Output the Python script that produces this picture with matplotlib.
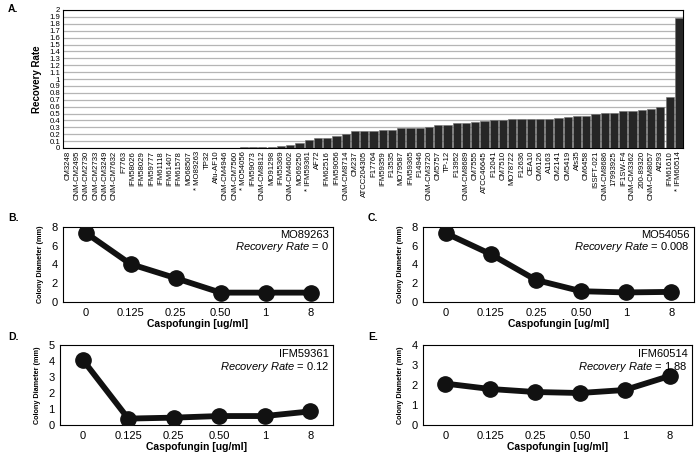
import matplotlib
matplotlib.use("Agg")
import matplotlib.pyplot as plt
import numpy as np

plt.rcParams['font.family'] = ['Liberation Sans', 'DejaVu Sans']
plt.rcParams['mathtext.fontset'] = 'custom'
plt.rcParams['mathtext.rm'] = 'Liberation Sans'
plt.rcParams['mathtext.it'] = 'Liberation Sans:italic'

# ---- Panel A data ----
strains = ["CM3248", "CNM-CM2495", "CNM-CM2730", "CNM-CM2733", "CNM-CM3249", "CNM-CM7632",
           "F7763", "IFM58026", "IFM58029", "IFM59777", "IFM61118", "IFM61407", "IFM61578",
           "MO68507", "* MO89263", "TP32", "Afu-AF10", "CNM-CM4946", "CNM-CM7560",
           "* MO54056", "IFM59073", "CNM-CM8812", "MO91298", "IFM55369", "CNM-CM4602",
           "MO69250", "* IFM59361", "AF72", "IFM62516", "IFM59056", "CNM-CM8714", "CM237",
           "ATCC204305", "F17764", "IFM59359", "F13535", "MO79587", "IFM59365", "F14946",
           "CNM-CM3720", "CM5757", "TP-12", "F13952", "CNM-CM8689", "CM7555", "ATCC46645",
           "F12041", "CM7510", "MO78722", "F12636", "CEA10", "CM6126", "A1163", "CM2141",
           "CM5419", "Afs35", "CM6458", "ISSFT-021", "CNM-CM8686", "17993925", "IF1SW-F4",
           "CNM-CM3362", "200-89320", "CNM-CM8057", "Af293", "IFM61610", "* IFM60514"]
recovery = [0, 0, 0, 0, 0, 0, 0, 0, 0, 0, 0, 0, 0, 0, 0, 0,
            0.005, 0.006, 0.007, 0.008, 0.009, 0.009, 0.01, 0.03, 0.04, 0.07, 0.12,
            0.14, 0.145, 0.17, 0.21, 0.24, 0.25, 0.25, 0.255, 0.26, 0.285, 0.285, 0.29,
            0.30, 0.34, 0.34, 0.36, 0.36, 0.38, 0.39, 0.41, 0.41, 0.415, 0.415, 0.425,
            0.425, 0.425, 0.435, 0.45, 0.46, 0.47, 0.49, 0.51, 0.51, 0.53, 0.53, 0.55,
            0.56, 0.59, 0.74, 1.88]

# ---- Panels B-E data ----
conc_labels = ["0", "0.125", "0.25", "0.50", "1", "8"]
diam_B = [7.4, 4.05, 2.55, 1.0, 1.0, 1.0]
diam_C = [7.35, 5.1, 2.35, 1.15, 1.02, 1.08]
diam_D = [4.08, 0.40, 0.46, 0.56, 0.56, 0.85]
diam_E = [2.07, 1.8, 1.65, 1.6, 1.75, 2.45]

W, H = 696, 454
fig = plt.figure(figsize=(W / 100, H / 100), dpi=100)


def ax_px(l, t, r, b):
    return fig.add_axes([l / W, 1 - b / H, (r - l) / W, (b - t) / H])


# ---- Panel A ----
axA = ax_px(63, 10, 683, 148)
x = np.arange(len(strains))
axA.bar(x, recovery, width=0.88, color='#262626', edgecolor='#707070', linewidth=0.4, zorder=3)
axA.set_ylim(0, 2)
axA.set_xlim(-0.55, len(strains) - 0.55)
yt = np.round(np.arange(0, 2.01, 0.1), 1)
axA.set_yticks(yt)
axA.set_yticklabels([('%g' % v) for v in yt], fontsize=5.6)
axA.yaxis.grid(True, color='#b5b5b5', linewidth=0.9, zorder=0)
axA.set_xticks(x)
axA.set_xticklabels(strains, rotation=90, fontsize=5.6)
axA.tick_params(axis='x', length=0, pad=2)
axA.tick_params(axis='y', length=0, pad=2)
axA.set_ylabel("Recovery Rate", fontsize=7, fontweight='bold', labelpad=5)
for s in axA.spines.values():
    s.set_color('black')
    s.set_linewidth(0.8)

fig.text(8 / W, 1 - 9 / H, "A.", fontsize=7.5, fontweight='bold', va='center')


def line_panel(ax, vals, ymax, yticks, name, rate):
    xi = np.arange(len(vals))
    ax.plot(xi, vals, color='#111111', linewidth=4.2, marker='o', markersize=11,
            markerfacecolor='#111111', markeredgecolor='#111111', zorder=3)
    ax.set_xlim(-0.5, len(vals) - 0.5)
    ax.set_ylim(0, ymax)
    ax.set_yticks(yticks)
    ax.set_yticklabels([str(v) for v in yticks], fontsize=8)
    ax.set_xticks(xi)
    ax.set_xticklabels(conc_labels, fontsize=8)
    ax.tick_params(length=0, pad=4)
    ax.set_xlabel("Caspofungin [ug/ml]", fontsize=7.5, fontweight='bold', labelpad=1)
    ax.set_ylabel("Colony Diameter (mm)", fontsize=5.2, fontweight='bold', labelpad=5)
    for s in ax.spines.values():
        s.set_color('black')
        s.set_linewidth(0.8)
    ax.text(0.985, 0.89, name, transform=ax.transAxes, ha='right', va='center', fontsize=8)
    ax.text(0.985, 0.73, r"$\it{Recovery\ Rate}$ = " + rate, transform=ax.transAxes,
            ha='right', va='center', fontsize=8)


axB = ax_px(63, 227, 333, 302)
line_panel(axB, diam_B, 8, [0, 2, 4, 6, 8], "MO89263", "0")
axC = ax_px(423, 227, 694, 302)
line_panel(axC, diam_C, 8, [0, 2, 4, 6, 8], "MO54056", "0.008")
axD = ax_px(60, 345, 333, 425)
line_panel(axD, diam_D, 5, [0, 1, 2, 3, 4, 5], "IFM59361", "0.12")
axE = ax_px(423, 345, 692, 425)
line_panel(axE, diam_E, 4, [0, 1, 2, 3, 4], "IFM60514", "1.88")

fig.text(8 / W, 1 - 218 / H, "B.", fontsize=7.5, fontweight='bold', va='center')
fig.text(368 / W, 1 - 218 / H, "C.", fontsize=7.5, fontweight='bold', va='center')
fig.text(8 / W, 1 - 337 / H, "D.", fontsize=7.5, fontweight='bold', va='center')
fig.text(368 / W, 1 - 337 / H, "E.", fontsize=7.5, fontweight='bold', va='center')

fig.savefig("out.png", dpi=100)
